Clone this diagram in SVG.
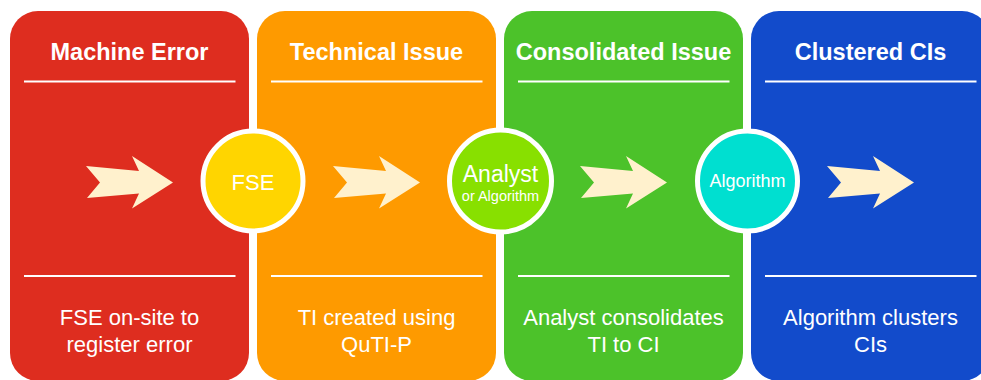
<svg xmlns="http://www.w3.org/2000/svg" xmlns:xlink="http://www.w3.org/1999/xlink" width="981" height="380" viewBox="0 0 981 380">
  <style>
    text { font-family: "Liberation Sans", Arial, Helvetica, sans-serif; fill: #ffffff; text-anchor: middle; }
    .hdr { font-size: 23.5px; font-weight: bold; }
    .desc { font-size: 22px; }
    .rule { stroke: #ffffff; stroke-width: 2; }
    .hub { stroke: #ffffff; stroke-width: 5; }
    .arrow { fill: #FFF1CD; }
  </style>
  <defs>
    <polygon id="chev" points="86,166 139,171 132,156 173,182.5 132,208.5 139,193.5 87,198 100,182.5"/>
  </defs>
  <rect width="981" height="380" fill="#ffffff"/>

  <g id="panel-machine-error">
    <rect x="10" y="11" width="239" height="370" rx="28" ry="28" fill="#DE2D1F"/>
    <text class="hdr" x="129.5" y="60">Machine Error</text>
    <line class="rule" x1="24" y1="81.5" x2="235.5" y2="81.5"/>
    <line class="rule" x1="24" y1="276" x2="235.5" y2="276"/>
    <text class="desc" x="129.5" y="325">FSE on-site to</text>
    <text class="desc" x="129.5" y="352">register error</text>
  </g>

  <g id="panel-technical-issue">
    <rect x="257" y="11" width="239" height="370" rx="28" ry="28" fill="#FE9A00"/>
    <text class="hdr" x="376.5" y="60">Technical Issue</text>
    <line class="rule" x1="271" y1="81.5" x2="482.5" y2="81.5"/>
    <line class="rule" x1="271" y1="276" x2="482.5" y2="276"/>
    <text class="desc" x="376.5" y="325">TI created using</text>
    <text class="desc" x="376.5" y="352">QuTI-P</text>
  </g>

  <g id="panel-consolidated-issue">
    <rect x="504" y="11" width="239" height="370" rx="28" ry="28" fill="#4CC22A"/>
    <text class="hdr" x="623.5" y="60">Consolidated Issue</text>
    <line class="rule" x1="518" y1="81.5" x2="729.5" y2="81.5"/>
    <line class="rule" x1="518" y1="276" x2="729.5" y2="276"/>
    <text class="desc" x="623.5" y="325">Analyst consolidates</text>
    <text class="desc" x="623.5" y="352">TI to CI</text>
  </g>

  <g id="panel-clustered-cis">
    <rect x="751" y="11" width="239" height="370" rx="28" ry="28" fill="#124BCB"/>
    <text class="hdr" x="870.5" y="60">Clustered CIs</text>
    <line class="rule" x1="765" y1="81.5" x2="976.5" y2="81.5"/>
    <line class="rule" x1="765" y1="276" x2="976.5" y2="276"/>
    <text class="desc" x="870.5" y="325">Algorithm clusters</text>
    <text class="desc" x="870.5" y="352">CIs</text>
  </g>

  <g id="connectors">
    <use xlink:href="#chev" href="#chev" class="arrow"/>
    <use xlink:href="#chev" href="#chev" class="arrow" transform="translate(247,0)"/>
    <use xlink:href="#chev" href="#chev" class="arrow" transform="translate(494,0)"/>
    <use xlink:href="#chev" href="#chev" class="arrow" transform="translate(741,0)"/>
  </g>

  <g id="hub-fse">
    <circle class="hub" cx="253" cy="181" r="50" fill="#FFD500"/>
    <text x="253" y="190" style="font-size:22px">FSE</text>
  </g>

  <g id="hub-analyst">
    <circle class="hub" cx="500.5" cy="181" r="51" fill="#88E000"/>
    <text x="500.5" y="182" style="font-size:23px">Analyst</text>
    <text x="500.5" y="201" style="font-size:14.5px">or Algorithm</text>
  </g>

  <g id="hub-algorithm">
    <circle class="hub" cx="747.5" cy="181" r="50" fill="#00DFD0"/>
    <text x="747.5" y="187" style="font-size:18px">Algorithm</text>
  </g>
</svg>
